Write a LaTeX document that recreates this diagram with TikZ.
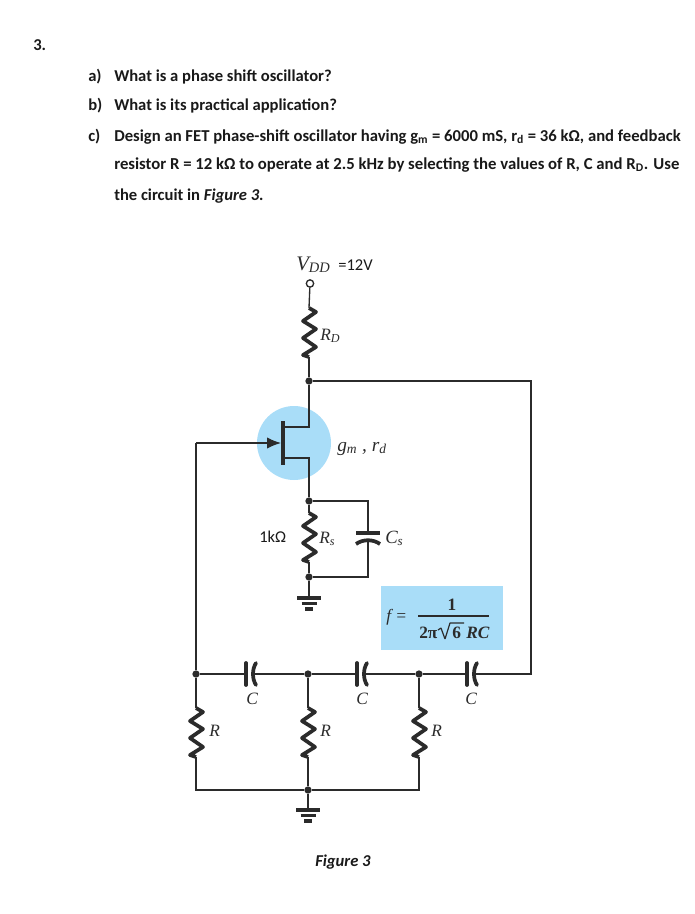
\documentclass[tikz,border=0pt]{standalone}
\usepackage{amsmath}
\usepackage{fontspec}
\setmainfont{Carlito}
\newfontfamily\serifc{Liberation Serif}
\usetikzlibrary{arrows.meta}
\definecolor{lightblue}{HTML}{A9DDF8}
\definecolor{ink}{HTML}{2B2B2B}
\tikzset{
  x=0.75pt,y=-0.75pt,
  wire/.style={draw=ink,line width=1pt},
  heavy/.style={draw=ink,line width=2.8pt,line join=round},
  dot/.style={circle,fill=ink,inner sep=0pt,minimum size=5.5pt},
  txt/.style={anchor=base west,inner sep=0pt,font=\fontsize{12.45pt}{14pt}\selectfont\bfseries,text=black!90},
  txtwide/.style={txt,font=\fontsize{12.55pt}{14pt}\selectfont\bfseries},
  lbl/.style={anchor=base west,inner sep=0pt,font=\fontsize{13pt}{14pt}\selectfont\serifc\itshape,text=ink},
  val/.style={anchor=base west,inner sep=0pt,font=\fontsize{12.4pt}{14pt}\selectfont,text=black!90},
  eqn/.style={inner sep=0pt,font=\fontsize{13pt}{14pt}\selectfont\serifc\bfseries,text=ink},
  resistor/.pic={\draw[heavy] (0,0) -- (7,4) -- (-6,13) -- (7,21) -- (-6,30) -- (7,39) -- (-6,47) -- (0,49);},
  capacitor/.pic={
    \draw[heavy,line cap=round] (-4,-11) -- (-4,11);
    \draw[heavy,line cap=round] (6,-11) .. controls (2,-5) and (2,5) .. (6,11);},
  shuntcap/.pic={
    \draw[heavy] (-12,-1) -- (12,-1);
    \draw[heavy] (-12,10) .. controls (-5,5) and (5,5) .. (12,10);},
  earth/.pic={
    \draw[draw=ink,line width=2.6pt] (-12,0) -- (12,0);
    \draw[draw=ink,line width=2.6pt] (-7.5,5.5) -- (7.5,5.5);
    \draw[draw=ink,line width=2.8pt] (-4,11) -- (4,11);},
}
\begin{document}
\begin{tikzpicture}
\useasboundingbox (0,0) rectangle (694,914);
% text
\node[txt] (q) at (33,50) {3.};
\node[txt] (qa) at (88,81) {a)};
\node[txt] (ta) at (114,81) {What is a phase shift oscillator?};
\node[txt] (qb) at (88,110) {b)};
\node[txt] (tb) at (114,110) {What is its practical application?};
\node[txt] (qc) at (88,141) {c)};
\node[txt,font=\fontsize{12.5pt}{14pt}\selectfont\bfseries] (tc) at (114,141) {Design an FET phase-shift oscillator having g\textsubscript{m} = 6000 mS, r\textsubscript{d} = 36 k\symbol{"03A9}, and feedback};
\node[txtwide] (td) at (114,169) {resistor R = 12 k\symbol{"03A9} to operate at 2.5 kHz by selecting the values of R, C and R\textsubscript{D}. Use};
\node[txt] (te) at (114,200) {the circuit in \textit{Figure 3.}};
% shaded
\fill[lightblue] (294,443) circle[radius=37];
\node[fill=lightblue,minimum width=91.5pt,minimum height=48pt,inner sep=0pt] (fbox) at (441.5,617.5) {};
\node[eqn,anchor=base west,font=\fontsize{13pt}{14pt}\selectfont\serifc\itshape] (ff) at (386,621) {f =};
\node[eqn,anchor=base] (fnum) at (452,610) {1};
\coordinate (fl) at (418,616);
\coordinate (fr) at (489,616);
\draw[draw=ink,line width=0.9pt] (fl) -- (fr);
\node[eqn,anchor=base west] (f2pi) at (419,638) {2\symbol{"03C0}};
\coordinate (ra) at (438,630);
\coordinate (rb) at (441,628);
\coordinate (rc) at (445,639);
\coordinate (rd) at (450,623);
\coordinate (re) at (464,623);
\draw[draw=ink,line width=0.9pt,line join=bevel] (ra) -- (rb) -- (rc) -- (rd) -- (re);
\node[eqn,anchor=base west] (f6) at (452,638) {6};
\node[eqn,anchor=base west,font=\fontsize{13pt}{14pt}\selectfont\serifc\bfseries\itshape] (frc) at (466,638) {RC};
% coordinates and junctions
\node[circle,draw=ink,line width=1pt,fill=white,inner sep=0pt,minimum size=5.5pt] (vdd) at (310,283.5) {};
\coordinate (rdt) at (309,308);
\coordinate (rdb) at (309,357);
\node[dot] (jd) at (309,381) {};
\coordinate (tr) at (531,381);
\coordinate (br) at (531,674);
\coordinate (dr) at (309,427);
\coordinate (dg) at (283,427);
\coordinate (sr) at (309,458);
\coordinate (sg) at (283,458);
\coordinate (gbt) at (283,421);
\coordinate (gbb) at (283,465);
\coordinate (gate) at (281,443);
\coordinate (gl) at (196,443);
\node[dot] (js) at (309,501) {};
\coordinate (rst) at (309,513);
\coordinate (rsb) at (309,562);
\node[dot] (jsb) at (309,577) {};
\coordinate (gnd1) at (309,598);
\coordinate (cst) at (368,501);
\coordinate (csb) at (368,577);
\coordinate (csu) at (368,533);
\coordinate (csl) at (368,540);
\node[dot] (j1) at (196,674) {};
\node[dot] (j2) at (308,674) {};
\node[dot] (j3) at (419,674) {};
\coordinate (c1l) at (246,674);\coordinate (c1r) at (254,674);
\coordinate (c2l) at (357,674);\coordinate (c2r) at (365,674);
\coordinate (c3l) at (467,674);\coordinate (c3r) at (475,674);
\coordinate (r1t) at (196,708);\coordinate (r1b) at (196,757);
\coordinate (r2t) at (308,708);\coordinate (r2b) at (308,757);
\coordinate (r3t) at (419,708);\coordinate (r3b) at (419,757);
\coordinate (b1) at (196,790);
\node[dot] (b2) at (308,790) {};
\coordinate (b3) at (419,790);
\coordinate (gnd2) at (308,810);
% connectors
\draw[wire] (vdd) -- (rdt);
\draw[wire] (rdb) -- (jd);
\draw[wire] (jd) -- (tr) -- (br) -- (c3r);
\draw[wire,line width=1.4pt] (jd) -- (dr) -- (dg);
\draw[wire,line width=1.4pt] (sg) -- (sr) -- (js);
\draw[draw=ink,line width=3.4pt] (gbt) -- (gbb);
\draw[wire,-{Latex[length=10.5pt,width=8.5pt]}] (gl) -- (gate);
\draw[wire] (gl) -- (j1);
\draw[wire] (js) -- (rst);
\draw[wire] (rsb) -- (jsb);
\draw[wire] (jsb) -- (gnd1);
\draw[wire] (js) -- (cst) -- (csu);
\draw[wire] (csl) -- (csb) -- (jsb);
\draw[wire] (j1) -- (c1l);
\draw[wire] (c1r) -- (j2);
\draw[wire] (j2) -- (c2l);
\draw[wire] (c2r) -- (j3);
\draw[wire] (j3) -- (c3l);
\draw[wire] (j1) -- (r1t);
\draw[wire] (j2) -- (r2t);
\draw[wire] (j3) -- (r3t);
\draw[wire] (r1b) -- (b1) -- (b2);
\draw[wire] (r2b) -- (b2);
\draw[wire] (r3b) -- (b3) -- (b2);
\draw[wire] (b2) -- (gnd2);
% components
\pic at (rdt) {resistor};
\pic at (rst) {resistor};
\pic at (r1t) {resistor};
\pic at (r2t) {resistor};
\pic at (r3t) {resistor};
\pic at (250,674) {capacitor};
\pic at (361,674) {capacitor};
\pic at (471,674) {capacitor};
\pic at (368,534) {shuntcap};
\pic at (gnd1) {earth};
\pic at (gnd2) {earth};
% labels
\node[lbl,font=\fontsize{15.5pt}{16pt}\selectfont\serifc\itshape] (lvdd) at (296,270) {V\textsubscript{DD}};
\node[val] (v12) at (338,270) {=12V};
\node[lbl] (lrd) at (320,340) {R\textsubscript{D}};
\node[lbl,font=\fontsize{14.5pt}{16pt}\selectfont\serifc\itshape] (lgm) at (337,451) {g\textsubscript{m} , r\textsubscript{d}};
\node[val] (l1k) at (259,542) {1k\symbol{"03A9}};
\node[lbl] (lrs) at (319,543) {R\textsubscript{s}};
\node[lbl,font=\fontsize{14pt}{16pt}\selectfont\serifc\itshape] (lcs) at (385,543) {C\textsubscript{s}};
\node[lbl] (lc1) at (246,704) {C};
\node[lbl] (lc2) at (356,704) {C};
\node[lbl] (lc3) at (465,704) {C};
\node[lbl] (lr1) at (209,736) {R};
\node[lbl] (lr2) at (320,736) {R};
\node[lbl] (lr3) at (431,736) {R};
\node[txt] (fig) at (315,866) {\textit{Figure 3}};
\end{tikzpicture}
\end{document}
